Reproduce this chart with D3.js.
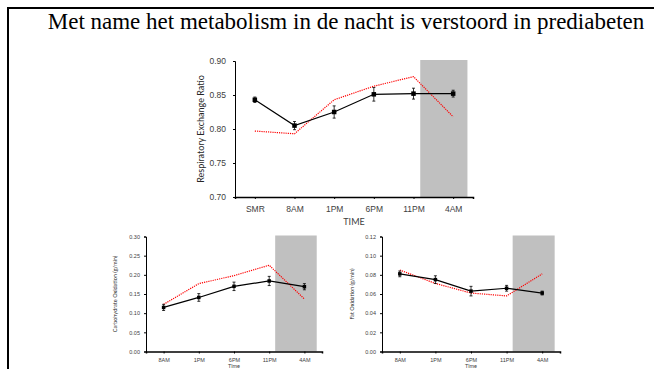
<!DOCTYPE html>
<html>
<head>
<meta charset="utf-8">
<script src="https://cdn.jsdelivr.net/npm/d3@7"></script>
<style>
  body { margin: 0; background: #fff; }
  svg { display: block; }
</style>
</head>
<body>
<div id="chart"></div>
<script>
// slide title
const title = "Met name het metabolism in de nacht is verstoord in prediabeten";

// top panel: respiratory exchange ratio
const rerCats = ["SMR", "8AM", "1PM", "6PM", "11PM", "4AM"];
const rerControl = [0.843, 0.805, 0.825, 0.851, 0.852, 0.852];
const rerControlErr = [0.004, 0.006, 0.009, 0.010, 0.008, 0.005];
const rerPrediabetes = [0.797, 0.793, 0.843, 0.863, 0.877, 0.818];
const rerTicks = [0.70, 0.75, 0.80, 0.85, 0.90];

// bottom panels
const subCats = ["8AM", "1PM", "6PM", "11PM", "4AM"];
const choControl = [0.115, 0.141, 0.170, 0.184, 0.169];
const choControlErr = [0.008, 0.010, 0.011, 0.012, 0.008];
const choPrediabetes = [0.123, 0.177, 0.198, 0.225, 0.137];
const choTicks = [0.00, 0.05, 0.10, 0.15, 0.20, 0.25, 0.30];

const fatControl = [0.081, 0.075, 0.063, 0.066, 0.061];
const fatControlErr = [0.003, 0.004, 0.005, 0.003, 0.002];
const fatPrediabetes = [0.085, 0.071, 0.061, 0.058, 0.081];
const fatTicks = [0.00, 0.02, 0.04, 0.06, 0.08, 0.10, 0.12];

// night period, in category index units (from just after 11PM to past 4AM)
const nightTop = [4.17, 5.36];
const nightSub = [3.17, 4.35];

const W = 654, H = 369;
const svg = d3.select("#chart").append("svg")
  .attr("width", W).attr("height", H)
  .style("font-family", "Lato, 'Open Sans', sans-serif");

svg.append("rect").attr("width", W).attr("height", H).attr("fill", "#fff");

// slide frame
svg.append("path")
  .attr("d", "M8,369 V8 H660")
  .attr("fill", "none").attr("stroke", "#000").attr("stroke-width", 2);

svg.append("text")
  .attr("x", 346).attr("y", 29)
  .attr("text-anchor", "middle")
  .style("font-family", "'Liberation Serif', 'Times New Roman', serif")
  .style("font-size", "23px")
  .text(title);

function drawPanel(p) {
  const x = d3.scalePoint().domain(p.cats).range([p.left, p.right]).padding(0.5);
  const step = x.step();
  const xi = i => x(p.cats[0]) + i * step;
  const y = d3.scaleLinear().domain([p.ticks[0], p.ticks[p.ticks.length - 1]]).range([p.bottom, p.top]);

  // night shading
  svg.append("rect")
    .attr("x", xi(p.night[0]))
    .attr("y", p.top - 1)
    .attr("width", xi(p.night[1]) - xi(p.night[0]))
    .attr("height", p.bottom - p.top + 1)
    .attr("fill", "#c0c0c0");

  const yAxis = svg.append("g")
    .attr("transform", "translate(" + p.left + ",0)")
    .call(d3.axisLeft(y).tickValues(p.ticks).tickFormat(d3.format(".2f")).tickSize(2).tickPadding(p.tickPad));
  yAxis.select(".domain").attr("stroke", "#000").attr("stroke-width", 1);
  yAxis.selectAll(".tick line").attr("stroke", "#000");
  yAxis.selectAll("text").attr("fill", "#404040").style("font-size", p.fs + "px");

  const xAxis = svg.append("g")
    .attr("transform", "translate(0," + p.bottom + ")")
    .call(d3.axisBottom(x).tickSize(2).tickSizeOuter(2).tickPadding(p.tickPadX));
  xAxis.select(".domain").attr("stroke", "#000").attr("stroke-width", 1.5);
  xAxis.selectAll(".tick line").attr("stroke", "#000");
  xAxis.selectAll("text").attr("fill", "#404040").style("font-size", p.fs + "px");

  // axis titles
  svg.append("text")
    .attr("transform", "translate(" + p.ylabX + "," + (p.top + p.bottom) / 2 + ") rotate(-90)")
    .attr("text-anchor", "middle")
    .attr("dominant-baseline", "middle")
    .attr("fill", "#262626")
    .style("font-size", p.lfs + "px")
    .text(p.ylabel);
  svg.append("text")
    .attr("x", (p.left + p.right) / 2).attr("y", p.xlabY)
    .attr("text-anchor", "middle")
    .attr("fill", "#404040")
    .style("font-size", p.lfs + "px")
    .text(p.xlabel);

  // prediabetes: red dotted line
  svg.append("path")
    .datum(p.pre)
    .attr("fill", "none")
    .attr("stroke", "#ff0000")
    .attr("stroke-width", 1.2)
    .attr("stroke-dasharray", "1.2,1")
    .attr("d", d3.line().x((d, i) => x(p.cats[i])).y(d => y(d)));

  // control: black line with error bars
  svg.append("path")
    .datum(p.ctrl)
    .attr("fill", "none")
    .attr("stroke", "#000")
    .attr("stroke-width", 1.2)
    .attr("d", d3.line().x((d, i) => x(p.cats[i])).y(d => y(d)));

  const eb = svg.append("g").selectAll("g")
    .data(p.ctrl.map((v, i) => ({ c: p.cats[i], v: v, e: p.err[i] })))
    .join("g");
  eb.append("line")
    .attr("x1", d => x(d.c)).attr("x2", d => x(d.c))
    .attr("y1", d => y(d.v - d.e)).attr("y2", d => y(d.v + d.e))
    .attr("stroke", "#000").attr("stroke-width", 0.8);
  [-1, 1].forEach(s => {
    eb.append("line")
      .attr("x1", d => x(d.c) - 1.5).attr("x2", d => x(d.c) + 1.5)
      .attr("y1", d => y(d.v + s * d.e)).attr("y2", d => y(d.v + s * d.e))
      .attr("stroke", "#000").attr("stroke-width", 0.8);
  });
  eb.append("rect")
    .attr("x", d => x(d.c) - p.ms / 2).attr("y", d => y(d.v) - p.ms / 2)
    .attr("width", p.ms).attr("height", p.ms)
    .attr("fill", "#000");
}

drawPanel({
  cats: rerCats, ctrl: rerControl, err: rerControlErr, pre: rerPrediabetes, ticks: rerTicks,
  night: nightTop, left: 235, right: 473, top: 61, bottom: 197,
  fs: 8.5, lfs: 9, tickPad: 7, tickPadX: 7, ms: 4.5,
  ylabel: "Respiratory Exchange Ratio", ylabX: 202, xlabel: "TIME", xlabY: 225
});

drawPanel({
  cats: subCats, ctrl: choControl, err: choControlErr, pre: choPrediabetes, ticks: choTicks,
  night: nightSub, left: 146, right: 322, top: 236.5, bottom: 351.5,
  fs: 5.5, lfs: 5.5, tickPad: 4, tickPadX: 5, ms: 3.5,
  ylabel: "Carbohydrate Oxidation (g/min)", ylabX: 116, xlabel: "Time", xlabY: 367.5
});

drawPanel({
  cats: subCats, ctrl: fatControl, err: fatControlErr, pre: fatPrediabetes, ticks: fatTicks,
  night: nightSub, left: 382, right: 560, top: 236.5, bottom: 351.5,
  fs: 5.5, lfs: 5.5, tickPad: 4, tickPadX: 5, ms: 3.5,
  ylabel: "Fat Oxidation (g/min)", ylabX: 353, xlabel: "Time", xlabY: 367.5
});
</script>
</body>
</html>
